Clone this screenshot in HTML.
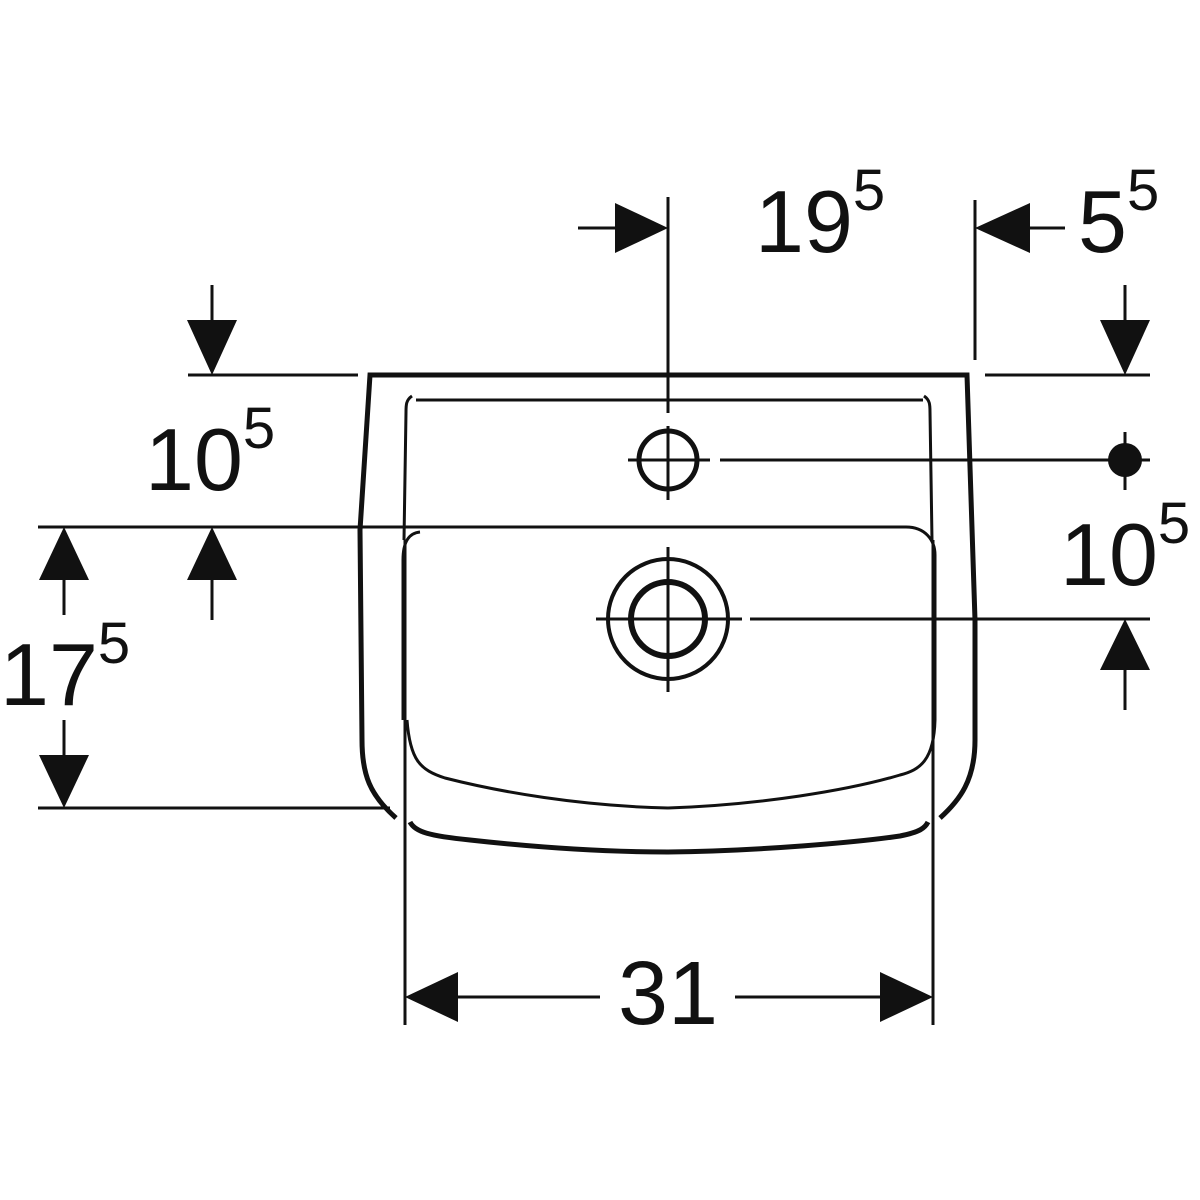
<!DOCTYPE html>
<html><head><style>html,body{margin:0;padding:0;background:#fff}svg{display:block}text{font-family:"Liberation Sans",sans-serif;fill:#111}</style></head><body>
<svg width="1200" height="1200" viewBox="0 0 1200 1200" xmlns="http://www.w3.org/2000/svg">
<g stroke="#111" fill="none" stroke-linecap="butt">
<path d="M396 818 C370 795 362 775 362 740 L360 530 L370 375 L967 375 L975 620 L975 740 C975 780 960 800 940 818" stroke-width="5"/>
<path d="M416 400 L923 400" stroke-width="3"/>
<path d="M412 396 C406 400 406 405 406 412 L404 540" stroke-width="3"/>
<path d="M924 396 C930 400 930 405 930 412 L932 540" stroke-width="3"/>
<path d="M478 527 L906 527 C925 527 935 540 935 555 L935 720 C934 760 920 770 900 775 C850 790 760 805 668 808" stroke-width="3"/>
<path d="M403 720 L403 560 C403 540 410 533 420 532" stroke-width="3"/>
<path d="M407 720 C410 760 420 770 445 778 C500 792 580 806 668 808" stroke-width="3"/>
<path d="M410 822 C415 832 430 836 470 840 C560 850 620 852 668 852 C760 851 860 842 900 836 C920 832 925 828 928 822" stroke-width="5"/>
<path d="M668 197 L668 413 M668 426 L668 500 M628 460 L710 460 M720 460 L1150 460 M1125 432 L1125 490" stroke-width="3"/>
<path d="M975 200 L975 360 M985 375 L1150 375 M188 375 L358 375 M38 527 L478 527 M38 808 L390 808 M405 540 L405 1025 M933 540 L933 1025" stroke-width="3"/>
<path d="M596 619 L742 619 M668 547 L668 692 M750 619 L1150 619" stroke-width="3"/>
<path d="M578 228 L615 228 M1030 228 L1065 228 M212 285 L212 320 M1125 285 L1125 320 M212 580 L212 620 M64 580 L64 615 M64 720 L64 755 M1125 670 L1125 710 M458 997 L600 997 M735 997 L880 997" stroke-width="3"/>
<circle cx="668" cy="460" r="29" stroke-width="5"/>
<circle cx="668" cy="619" r="60" stroke-width="4"/>
<circle cx="668" cy="619" r="37" stroke-width="6"/>
</g>
<g fill="#111">
<circle cx="1125" cy="460" r="17"/>
<polygon points="668,228 615,203 615,253"/>
<polygon points="975,228 1030,203 1030,253"/>
<polygon points="212,375 187,320 237,320"/>
<polygon points="1125,375 1100,320 1150,320"/>
<polygon points="212,527 187,580 237,580"/>
<polygon points="64,527 39,580 89,580"/>
<polygon points="64,808 39,755 89,755"/>
<polygon points="1125,619 1100,670 1150,670"/>
<polygon points="405,997 458,972 458,1022"/>
<polygon points="933,997 880,972 880,1022"/>
</g>
<text x="755" y="252" font-size="88">19<tspan font-size="58" dy="-42">5</tspan></text>
<text x="1078" y="252" font-size="88">5<tspan font-size="58" dy="-42">5</tspan></text>
<text x="145" y="490" font-size="88">10<tspan font-size="58" dy="-42">5</tspan></text>
<text x="1060" y="585" font-size="88">10<tspan font-size="58" dy="-42">5</tspan></text>
<text x="0" y="705" font-size="88">17<tspan font-size="58" dy="-42">5</tspan></text>
<text x="668" y="1024" font-size="90" text-anchor="middle">31</text>
</svg>
</body></html>
